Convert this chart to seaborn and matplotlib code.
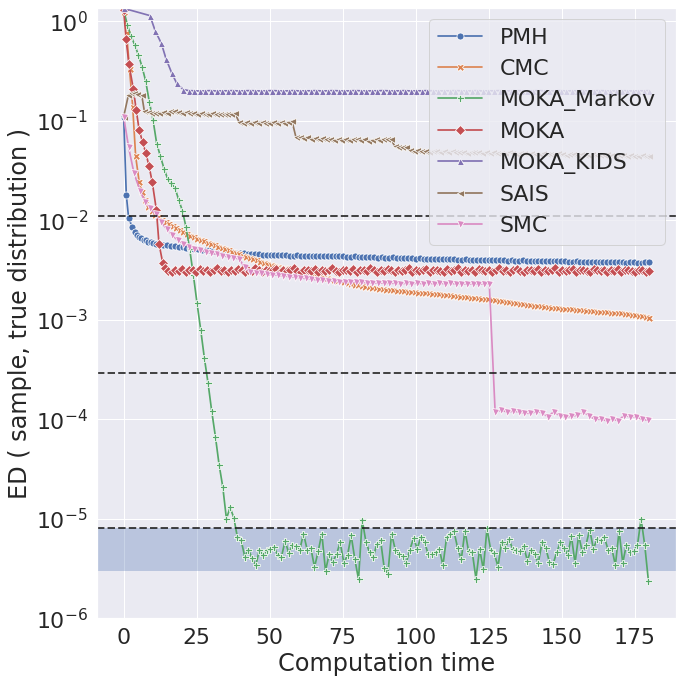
import numpy as np
import pandas as pd
import seaborn as sns
import matplotlib.pyplot as plt

methods = ["PMH", "CMC", "MOKA_Markov", "MOKA", "MOKA_KIDS", "SAIS", "SMC"]
markers = {"PMH": "o", "CMC": "X", "MOKA_Markov": "P", "MOKA": "D",
           "MOKA_KIDS": "^", "SAIS": "<", "SMC": "v"}

# reference levels (dashed lines) and shaded band
ref_levels = [1.1e-2, 2.9e-4, 8.1e-6]
band = (3.0e-6, 8.1e-6)

# ---- PMH ----
pmh_t = [0, 0.9, 1.7, 2.9, 3.9, 4.6, 5.3, 6.1, 6.9, 7.7, 8.4, 9.2, 10.0]
pmh_v = [0.11, 0.018, 0.0105, 0.0086, 0.0076, 0.0071, 0.0068, 0.0066, 0.0064,
         0.0063, 0.0061, 0.0060, 0.0059]
pmh_tail = [  # x 1e-3, time 11 -> 180
    5.8, 5.75, 5.65, 5.6, 5.55, 5.5, 5.42, 5.35, 5.3, 5.22,
    5.18, 5.1, 5.05, 5.0, 4.97, 4.93, 4.9, 4.87, 4.85, 4.8,
    4.78, 4.74, 4.7, 4.66, 4.62, 4.6, 4.57, 4.55, 4.52, 4.5,
    4.48, 4.47, 4.45, 4.5, 4.44, 4.42, 4.41, 4.45, 4.4, 4.39,
    4.42, 4.38, 4.4, 4.37, 4.36, 4.41, 4.35, 4.34, 4.38, 4.33,
    4.32, 4.3, 4.34, 4.28, 4.27, 4.31, 4.25, 4.24, 4.22, 4.25,
    4.2, 4.19, 4.23, 4.17, 4.16, 4.2, 4.14, 4.13, 4.12, 4.15,
    4.1, 4.09, 4.12, 4.07, 4.06, 4.1, 4.05, 4.04, 4.07, 4.02,
    4.03, 4.06, 4.01, 4.0, 4.03, 3.99, 3.98, 4.01, 3.97, 3.96,
    3.99, 3.95, 3.94, 3.97, 3.93, 3.92, 3.95, 3.91, 3.92, 3.94,
    3.9, 3.89, 3.92, 3.88, 3.9, 3.87, 3.86, 3.89, 3.85, 3.84,
    3.87, 3.83, 3.82, 3.85, 3.81, 3.8, 3.83, 3.79, 3.8, 3.82,
    3.78, 3.77, 3.8, 3.76, 3.77, 3.79, 3.75, 3.76, 3.78, 3.85]

# ---- CMC ----
cmc_t = [0.2, 1.0, 2.0, 3.1, 4.1, 5.3, 6.4, 7.3]
cmc_v = [1.25, 0.76, 0.33, 0.137, 0.044, 0.0244, 0.0194, 0.0159]
cmc_tail = [  # x 1e-3, time 8.4 -> 180
    13.7, 12.3, 11.4, 10.7, 10.1, 9.6, 9.2, 8.7, 8.3, 7.9,
    7.6, 7.35, 7.0, 6.8, 6.55, 6.35, 6.15, 5.95, 5.75, 5.6,
    5.45, 5.3, 5.15, 5.0, 4.85, 4.7, 4.55, 4.4, 4.25, 4.15,
    4.05, 3.95, 3.85, 3.75, 3.65, 3.57, 3.5, 3.42, 3.35, 3.3,
    3.24, 3.18, 3.13, 3.08, 3.02, 2.96, 2.9, 2.85, 2.8, 2.74,
    2.68, 2.63, 2.58, 2.53, 2.48, 2.43, 2.38, 2.34, 2.3, 2.26,
    2.22, 2.19, 2.16, 2.13, 2.1, 2.08, 2.05, 2.03, 2.01, 1.99,
    1.97, 1.96, 1.94, 1.93, 1.91, 1.9, 1.89, 1.88, 1.87, 1.86,
    1.85, 1.83, 1.82, 1.8, 1.78, 1.77, 1.76, 1.74, 1.73, 1.71,
    1.7, 1.68, 1.67, 1.65, 1.64, 1.62, 1.61, 1.6, 1.58, 1.57,
    1.55, 1.53, 1.51, 1.5, 1.48, 1.46, 1.45, 1.43, 1.42, 1.4,
    1.39, 1.37, 1.36, 1.34, 1.33, 1.31, 1.31, 1.3, 1.29, 1.28,
    1.27, 1.27, 1.26, 1.25, 1.24, 1.23, 1.22, 1.22, 1.21, 1.2,
    1.19, 1.19, 1.18, 1.17, 1.17, 1.16, 1.15, 1.14, 1.13, 1.12,
    1.1, 1.09, 1.07, 1.05]

# ---- MOKA_Markov (time 0 -> 179.7, evenly sampled) ----
markov_head = [1.3, 0.92, 0.71, 0.58, 0.46, 0.35, 0.25, 0.154, 0.102, 0.059,
               0.044, 0.033, 0.026, 0.0236, 0.0211, 0.016, 0.0125, 0.0085,
               0.0051, 0.0028, 0.00146, 0.00079, 4.1e-4, 2.3e-4, 1.2e-4,
               6.7e-5, 3.5e-5, 2.1e-5]
markov_tail = [  # x 1e-6
    10, 13, 10.3, 6.5, 6.1, 4.16, 4.9, 4.0, 3.4, 4.9,
    4.3, 4.86, 5.0, 5.2, 4.3, 4.16, 6.0, 4.5, 5.4, 5.3,
    4.9, 7.1, 4.9, 5.1, 3.26, 4.7, 7.1, 3.0, 4.4, 3.7,
    4.4, 5.8, 3.6, 4.3, 6.8, 3.9, 2.47, 9.8, 5.9, 4.6,
    4.1, 5.6, 6.1, 3.2, 2.8, 7.1, 4.9, 4.4,
    4.2, 3.6, 4.9, 6.4, 5.0, 6.6, 5.8, 4.4, 4.4, 4.6,
    5.0, 3.4, 6.5, 7.0, 7.5, 5.1, 3.9, 7.6, 4.7, 4.6,
    2.5, 5.0, 3.1, 8.0, 4.9, 4.5, 3.3, 5.9, 5.1, 6.2,
    5.0, 4.9, 4.7, 5.3, 3.8, 4.9, 4.4, 3.6, 5.8, 5.1,
    3.7, 3.5, 4.6, 5.8, 5.1, 4.3, 6.7, 3.6, 6.8, 4.6,
    5.5, 7.8, 5.0, 6.2, 6.1, 6.5, 4.9, 5.1, 3.4, 7.6,
    3.6, 5.5, 4.6, 4.8, 5.4, 10.0, 5.4, 2.37]

# ---- MOKA ----
moka_t = [0, 0.8, 1.8, 3.3, 4.3, 5.3, 6.5, 7.6, 8.7, 9.8, 11.2, 12.1, 13.4]
moka_v = [1.3, 0.67, 0.37, 0.21, 0.128, 0.081, 0.061, 0.047, 0.035, 0.024,
          0.0127, 0.0058, 0.0037]
moka_tail = [  # x 1e-3, time 14.1 -> 180
    3.35, 3.1, 3.05, 3.2, 3.1, 3.25, 3.05, 3.15, 3.2, 3.05,
    3.25, 3.1, 3.15, 3.05, 3.2, 3.3, 3.1, 3.15, 3.05, 3.2,
    3.1, 3.25, 3.15, 3.05, 3.2, 3.1, 3.3, 3.15, 3.05, 3.2,
    3.1, 3.15, 3.25, 3.05, 3.15, 3.1, 3.2, 3.3, 3.1, 3.05,
    3.2, 3.15, 3.1, 3.25, 3.05, 3.2, 3.1, 3.15, 3.3, 3.1,
    3.05, 3.2, 3.15, 3.1, 3.25, 3.05, 3.15, 3.2, 3.1, 3.3,
    3.15, 3.05, 3.2, 3.1, 3.25, 3.15, 3.05, 3.2, 3.1, 3.15,
    3.3, 3.05, 3.2, 3.1, 3.15, 3.25, 3.05, 3.15, 3.2, 3.1,
    3.05, 3.25, 3.1, 3.2, 3.3, 3.05, 3.15, 3.1, 3.2, 3.05,
    3.25, 3.15, 3.1, 3.2, 3.05, 3.15, 3.3, 3.1, 3.2, 3.05,
    3.15, 3.25, 3.1, 3.05, 3.2, 3.15, 3.1, 3.25, 3.05, 3.2,
    3.1, 3.15, 3.3, 3.05, 3.2, 3.1, 3.15, 3.25, 3.05, 3.15,
    3.2, 3.1, 3.05, 3.25, 3.15, 3.1, 3.2, 3.05, 3.15, 3.1,
    3.25, 3.05, 3.15, 3.2, 3.1, 3.05, 3.2, 3.15, 3.05, 3.1]

# ---- MOKA_KIDS ----
kids_t = [0, 9.0, 10.8, 12.9, 14.5, 16.5, 18.1, 20.4]
kids_v = [1.35, 1.14, 0.80, 0.60, 0.42, 0.30, 0.24, 0.206]
kids_tail = [  # time 22.3 -> 180
    0.201, 0.200, 0.199, 0.200, 0.201, 0.199, 0.200, 0.200, 0.201, 0.199, 0.200, 0.201,
    0.200, 0.199, 0.200, 0.201, 0.200, 0.199, 0.200, 0.201, 0.199, 0.200, 0.200, 0.201,
    0.199, 0.200, 0.201, 0.200, 0.199, 0.200, 0.201, 0.200, 0.199, 0.200, 0.200, 0.201,
    0.200, 0.199, 0.200, 0.201, 0.199, 0.200, 0.200, 0.201, 0.200, 0.199, 0.200, 0.200,
    0.201, 0.200, 0.199, 0.200, 0.201, 0.199, 0.200, 0.200, 0.201, 0.199, 0.200, 0.201,
    0.200, 0.199, 0.200, 0.201, 0.200, 0.199, 0.200, 0.201, 0.199, 0.200, 0.200, 0.201,
    0.199, 0.200, 0.201, 0.200, 0.199, 0.200, 0.201, 0.200, 0.199, 0.200, 0.200, 0.201]

# ---- SAIS ----
sais_t = [0, 1.6, 2.4, 3.5, 4.7, 6.2, 7.1]
sais_v = [0.11, 0.18, 0.19, 0.19, 0.185, 0.18, 0.124]
sais_tail = [  # x 1e-2, time 8.2 -> 180
    12.2, 12.0, 12.1, 11.9, 12.2, 12.0, 12.4, 12.6, 12.3, 12.1,
    12.2, 11.9, 12.0, 11.8, 12.0, 11.8, 11.7, 11.9, 11.7, 11.8,
    11.6, 11.8, 11.7, 11.9,
    9.8, 9.6, 9.7, 9.5, 9.7, 9.6, 9.8, 9.6, 9.5, 9.7,
    9.6, 9.8, 9.6, 9.7, 9.9,
    6.9, 6.8, 6.7, 6.8, 6.6, 6.7, 6.6, 6.7, 6.5, 6.6,
    6.4, 6.5, 6.4, 6.5, 6.4, 6.6, 6.5, 6.4, 6.5, 6.3,
    6.4, 6.5, 6.4, 6.5, 6.6, 6.5,
    5.6, 5.5, 5.45, 5.4, 5.1,
    5.0, 5.05, 4.95, 5.0, 4.9, 5.0, 4.95, 4.9, 5.0, 4.9, 4.95,
    4.85, 4.8, 4.85, 4.75, 4.8, 4.85, 4.8, 4.75, 4.8, 4.7,
    4.8, 4.75, 4.7, 4.75, 4.8, 4.7, 4.65, 4.7, 4.75, 4.65,
    4.7, 4.65, 4.6, 4.7, 4.65, 4.6, 4.65, 4.7, 4.6, 4.55,
    4.6, 4.65, 4.55, 4.6, 4.55, 4.5, 4.6, 4.55, 4.5, 4.55,
    4.6, 4.5, 4.45, 4.5, 4.55, 4.45, 4.5, 4.45, 4.4, 4.5,
    4.45, 4.45]

# ---- SMC ----
smc_t = [0, 1.7, 3.5, 5.6, 7.3, 9.0]
smc_v = [0.11, 0.054, 0.030, 0.0198, 0.0154, 0.0132]
smc_mid = [  # x 1e-3, time 10.9 -> 125.2
    11.5, 9.6, 8.2, 7.1, 6.3, 5.8, 5.45, 5.2, 5.0, 4.85,
    4.7, 4.55, 4.42, 4.3, 4.2, 4.1, 3.4, 3.0, 2.97, 2.93,
    2.9, 2.85, 2.8, 2.76, 2.72, 2.68, 2.64, 2.6, 2.55, 2.52,
    2.5, 2.47, 2.45, 2.42, 2.4, 2.39, 2.38, 2.37, 2.36, 2.35,
    2.34, 2.33, 2.32, 2.33, 2.31, 2.32, 2.3, 2.33, 2.31, 2.34,
    2.3, 2.32, 2.31, 2.33, 2.29, 2.31, 2.28, 2.3, 2.27, 2.3,
    2.31]
smc_late = [  # x 1e-4, time 127.2 -> 179.4
    1.19, 1.23, 1.19, 1.2, 1.19, 1.15, 1.15, 1.19, 1.17, 1.06,
    1.19, 1.09, 1.06, 1.07, 1.1, 1.19, 1.09, 1.0, 1.0, 0.97,
    1.0, 0.97, 1.09, 1.06, 1.06, 1.0, 0.98]


def build(name, head_t, head_v, tails):
    t = list(head_t)
    v = list(head_v)
    for t0, t1, vals, scale in tails:
        t += list(np.linspace(t0, t1, len(vals)))
        v += [x * scale for x in vals]
    return pd.DataFrame({"time": t, "ED": v, "method": name})


df = pd.concat([
    build("PMH", pmh_t, pmh_v, [(11, 180, pmh_tail, 1e-3)]),
    build("CMC", cmc_t, cmc_v, [(8.4, 180, cmc_tail, 1e-3)]),
    build("MOKA_Markov", [], [], [(0, 179.7, markov_head + [x * 1e-6 for x in markov_tail], 1)]),
    build("MOKA", moka_t, moka_v, [(14.1, 180, moka_tail, 1e-3)]),
    build("MOKA_KIDS", kids_t, kids_v, [(22.3, 180, kids_tail, 1)]),
    build("SAIS", sais_t, sais_v, [(8.2, 180, sais_tail, 1e-2)]),
    build("SMC", smc_t, smc_v, [(10.9, 125.2, smc_mid, 1e-3), (127.2, 179.4, smc_late, 1e-4)]),
], ignore_index=True)

sns.set_theme(style="darkgrid", font_scale=2)
fig = plt.figure(figsize=(682 / 72, 682 / 72), dpi=72)
ax = fig.add_axes([0.1428, 0.0934, 0.8478, 0.8949])

ax.axhspan(band[0], band[1], color=sns.color_palette()[0], alpha=0.3, lw=0)
sns.lineplot(data=df, x="time", y="ED", hue="method", style="method",
             hue_order=methods, style_order=methods, markers=markers,
             dashes=False, estimator=None, errorbar=None,
             markersize=7, linewidth=1.7, ax=ax)
for y in ref_levels:
    ax.axhline(y, color="k", ls="--", lw=2, alpha=0.8)

ax.set_yscale("log")
ax.set_ylim(1e-6, 1.36)
ax.set_xlim(-9, 189)
ax.set_xlabel("Computation time")
ax.set_ylabel("ED ( sample, true distribution )")
h, l = ax.get_legend_handles_labels()
ax.legend(h, l, loc="upper right")

fig.savefig("out.png", dpi=72)
